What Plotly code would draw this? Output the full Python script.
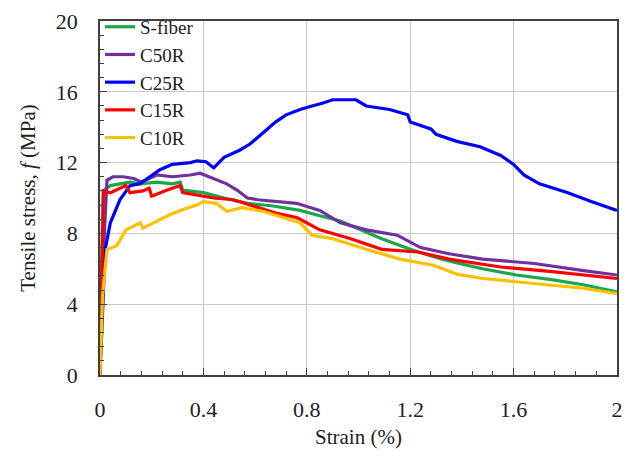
import plotly.graph_objects as go

series_names = ["S-fiber", "C50R", "C25R", "C15R", "C10R"]
series_colors = ["#1aa64b", "#7030a0", "#0000ff", "#ff0000", "#ffc000"]

sfiber_x = [0, 0.005, 0.013, 0.04, 0.077, 0.116, 0.155, 0.22, 0.28, 0.31, 0.32, 0.40, 0.48, 0.57, 0.67, 0.76, 0.774, 0.85, 0.93, 0.97, 1.09, 1.2, 1.32, 1.39, 1.48, 1.61, 1.74, 1.87, 2.0]
sfiber_y = [0, 5.5, 10.4, 10.7, 10.8, 10.9, 10.8, 10.9, 10.8, 10.9, 10.45, 10.3, 10.0, 9.7, 9.55, 9.35, 9.3, 9.0, 8.7, 8.45, 7.7, 7.1, 6.55, 6.3, 6.0, 5.65, 5.4, 5.1, 4.7]

c50r_x = [0, 0.01, 0.027, 0.05, 0.09, 0.13, 0.16, 0.22, 0.28, 0.35, 0.387, 0.44, 0.49, 0.53, 0.57, 0.61, 0.68, 0.76, 0.85, 0.93, 1.03, 1.15, 1.24, 1.35, 1.48, 1.68, 1.87, 2.0]
c50r_y = [0, 6.0, 11.0, 11.2, 11.2, 11.1, 10.9, 11.3, 11.2, 11.3, 11.4, 11.1, 10.8, 10.45, 10.0, 9.9, 9.8, 9.7, 9.3, 8.6, 8.2, 7.9, 7.2, 6.85, 6.55, 6.3, 5.9, 5.65]

c25r_x = [0, 0.01, 0.02, 0.04, 0.077, 0.116, 0.155, 0.193, 0.232, 0.28, 0.35, 0.375, 0.41, 0.44, 0.48, 0.54, 0.58, 0.64, 0.68, 0.72, 0.774, 0.82, 0.86, 0.90, 0.99, 1.03, 1.12, 1.19, 1.2, 1.28, 1.30, 1.38, 1.47, 1.55, 1.6, 1.64, 1.70, 1.81, 1.90, 2.0]
c25r_y = [0, 4.0, 7.1, 8.6, 9.9, 10.7, 10.8, 11.2, 11.6, 11.9, 12.0, 12.1, 12.05, 11.7, 12.3, 12.7, 13.05, 13.8, 14.3, 14.7, 15.0, 15.2, 15.35, 15.55, 15.55, 15.2, 15.0, 14.7, 14.3, 13.9, 13.6, 13.2, 12.9, 12.4, 11.9, 11.3, 10.8, 10.3, 9.8, 9.3]

c15r_x = [0, 0.006, 0.013, 0.04, 0.065, 0.10, 0.116, 0.166, 0.19, 0.20, 0.26, 0.31, 0.32, 0.375, 0.44, 0.515, 0.61, 0.68, 0.76, 0.774, 0.85, 0.97, 1.09, 1.23, 1.35, 1.55, 1.74, 2.0]
c15r_y = [0, 5.0, 10.4, 10.3, 10.45, 10.7, 10.3, 10.4, 10.55, 10.1, 10.45, 10.7, 10.3, 10.15, 10.0, 9.9, 9.45, 9.15, 8.9, 8.8, 8.2, 7.7, 7.1, 6.95, 6.55, 6.1, 5.85, 5.45]

c10r_x = [0, 0.01, 0.027, 0.065, 0.10, 0.155, 0.166, 0.22, 0.27, 0.32, 0.375, 0.40, 0.45, 0.49, 0.55, 0.63, 0.71, 0.774, 0.82, 0.90, 1.03, 1.16, 1.29, 1.38, 1.48, 1.68, 1.87, 2.0]
c10r_y = [0, 4.5, 7.1, 7.3, 8.2, 8.6, 8.3, 8.7, 9.05, 9.35, 9.6, 9.8, 9.7, 9.25, 9.45, 9.25, 8.9, 8.6, 7.9, 7.7, 7.1, 6.55, 6.2, 5.7, 5.45, 5.15, 4.9, 4.6]

xs = [sfiber_x, c50r_x, c25r_x, c15r_x, c10r_x]
ys = [sfiber_y, c50r_y, c25r_y, c15r_y, c10r_y]

x_ticks = [0, 0.4, 0.8, 1.2, 1.6, 2]
x_tick_labels = ["0", "0.4", "0.8", "1.2", "1.6", "2"]
y_ticks = [0, 4, 8, 12, 16, 20]

fig = go.Figure()
for name, color, x, y in zip(series_names, series_colors, xs, ys):
    fig.add_trace(go.Scatter(x=x, y=y, mode="lines", name=name,
                             line=dict(color=color, width=3.2)))

font_family = "Liberation Serif"
axis_common = dict(
    showline=True, linecolor="#404040", linewidth=1.5, mirror=True,
    showgrid=True, gridcolor="#c8c8c8", gridwidth=1.3,
    ticks="inside", ticklen=7, tickcolor="#404040",
    zeroline=False, ticklabeloverflow="allow",
    tickfont=dict(family=font_family, size=22, color="#222"),
)
fig.update_xaxes(range=[0, 2], tickvals=x_ticks, ticktext=x_tick_labels,
                 ticklabelstandoff=14,
                 minor=dict(dtick=0.08, ticks="inside", ticklen=4, tickcolor="#404040", showgrid=False),
                 title=dict(text="Strain (%)", font=dict(family=font_family, size=21, color="#222"), standoff=8),
                 **axis_common)
fig.update_yaxes(range=[0, 20], tickvals=y_ticks,
                 ticklabelstandoff=16,
                 minor=dict(dtick=0.8, ticks="inside", ticklen=4, tickcolor="#404040", showgrid=False),
                 title=dict(text="Tensile stress, <i>f</i> (MPa)", font=dict(family=font_family, size=21, color="#222"), standoff=14),
                 **axis_common)
fig.update_layout(
    width=625, height=450,
    margin=dict(l=92, r=16, t=13, b=83, autoexpand=False),
    plot_bgcolor="white", paper_bgcolor="white",
    legend=dict(x=0.0, y=1.037, xanchor="left", yanchor="top",
                bgcolor="rgba(255,255,255,0)", font=dict(family=font_family, size=19, color="#222"),
                tracegroupgap=0, itemwidth=30),
    showlegend=True,
)
fig.write_html("out.html")
